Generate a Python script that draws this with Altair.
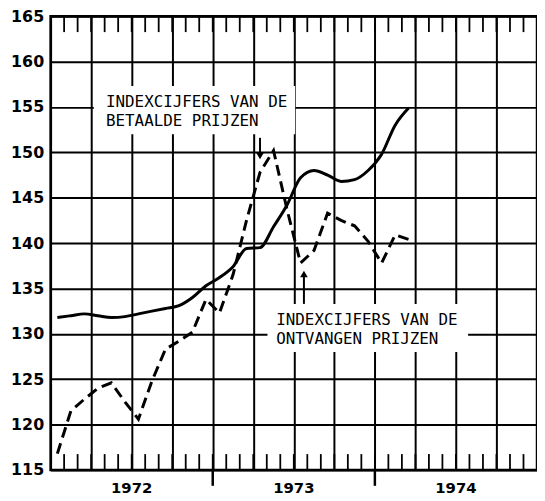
import altair as alt
import pandas as pd

# ---- data (months counted from 1 Jan 1972; values = index numbers) ----
months = [0.5 + k for k in range(27)]
betaalde = [131.8, 132.0, 132.2, 132.0, 131.8, 131.9, 132.2, 132.5, 132.8, 133.1,
            134.0, 135.3, 136.2, 137.4, 139.4, 139.5, 141.8, 144.2, 147.2, 148.0,
            147.5, 146.8, 147.0, 148.0, 149.8, 153.0, 154.9]
ontvangen = [116.8, 121.5, 122.8, 124.0, 124.6, 122.5, 120.6, 124.8, 128.3, 129.2,
             130.2, 133.8, 132.3, 136.5, 142.5, 147.8, 150.2, 143.7, 137.8, 139.2,
             143.3, 142.5, 141.9, 140.2, 137.8, 140.9, 140.4]

y_ticks = [115, 120, 125, 130, 135, 140, 145, 150, 155, 160, 165]
quarter_lines = [0, 3, 6, 9, 12, 15, 18, 21, 24, 27, 30, 33, 36]
month_ticks = list(range(1, 36))
year_bounds = [12, 24]
year_labels = ["1972", "1973", "1974"]
year_mid = [6, 18, 30]

label_text = ["INDEXCIJFERS VAN DE", "BETAALDE PRIJZEN",
              "INDEXCIJFERS VAN DE", "ONTVANGEN PRIJZEN"]
label_m = [4.1, 4.1, 16.7, 16.7]
label_v = [155.55, 153.4, 131.55, 129.4]

box_m = [3.2, 16.05]
box_m2 = [18.1, 30.9]
box_v = [157.3, 133.3]
box_v2 = [152.0, 128.0]

arrow_m = [15.5, 18.75]
arrow_from = [151.6, 133.3]
arrow_to = [149.6, 136.6]
arrow_shape = ["triangle-down", "triangle-up"]

W, H = 491, 458

xscale = alt.Scale(domain=[0, 36], nice=False, zero=False)
yscale = alt.Scale(domain=[115, 165], nice=False, zero=False)
xaxis = alt.Axis(values=quarter_lines, grid=True, gridColor="black", gridWidth=2,
                 gridOpacity=1, labels=False, ticks=False, domain=False, title=None)
yaxis = alt.Axis(values=y_ticks, grid=True, gridColor="black", gridWidth=2,
                 gridOpacity=1, ticks=False, domain=False, title=None,
                 labelFont="DejaVu Sans", labelFontWeight="bold", labelFontSize=16,
                 labelColor="black", labelPadding=7)

X = lambda f: alt.X(f, type="quantitative", scale=xscale, axis=xaxis)
Y = lambda f: alt.Y(f, type="quantitative", scale=yscale, axis=yaxis)

series = pd.DataFrame({"m": months * 2, "v": betaalde + ontvangen,
                       "s": ["b"] * 27 + ["o"] * 27})

solid = alt.Chart(series[series.s == "b"]).mark_line(
    color="black", strokeWidth=3, interpolate="monotone"
).encode(x=X("m"), y=Y("v"))

dashed = alt.Chart(series[series.s == "o"]).mark_line(
    color="black", strokeWidth=3, strokeDash=[11, 6]
).encode(x=X("m"), y=Y("v"))

boxes = alt.Chart(pd.DataFrame({"m": box_m, "m2": box_m2, "v": box_v, "v2": box_v2})).mark_rect(
    color="white"
).encode(x=X("m"), x2="m2", y=Y("v"), y2="v2")

labels = alt.Chart(pd.DataFrame({"m": label_m, "v": label_v, "t": label_text})).mark_text(
    align="left", baseline="middle", font="DejaVu Sans Mono", fontSize=16, color="black"
).encode(x=X("m"), y=Y("v"), text="t:N")

arrows_df = pd.DataFrame({"m": arrow_m, "v": arrow_from, "v2": arrow_to, "sh": arrow_shape})
arrow_lines = alt.Chart(arrows_df).mark_rule(color="black", strokeWidth=2).encode(
    x=X("m"), y=Y("v"), y2="v2")
arrow_heads = alt.Chart(pd.DataFrame({"m": arrow_m, "v": arrow_to, "sh": arrow_shape})).mark_point(
    filled=True, color="black", size=60, opacity=1
).encode(x=X("m"), y=Y("v"),
         shape=alt.Shape("sh:N", scale=None, legend=None))

mt = pd.DataFrame({"m": month_ticks})
top_ticks = alt.Chart(mt).mark_rule(color="black", strokeWidth=1.8).encode(
    x=X("m"), y=alt.value(0), y2=alt.value(16))
bottom_ticks = alt.Chart(mt).mark_rule(color="black", strokeWidth=1.8).encode(
    x=X("m"), y=alt.value(H - 16), y2=alt.value(H))
year_ticks = alt.Chart(pd.DataFrame({"m": year_bounds})).mark_rule(color="black", strokeWidth=2.5).encode(
    x=X("m"), y=alt.value(H), y2=alt.value(H + 16))
years = alt.Chart(pd.DataFrame({"m": year_mid, "t": year_labels})).mark_text(
    font="DejaVu Sans", fontWeight="bold", fontSize=15, color="black", baseline="middle"
).encode(x=X("m"), y=alt.value(H + 18), text="t:N")

chart = alt.layer(
    boxes, top_ticks, bottom_ticks, year_ticks, solid, dashed,
    labels, arrow_lines, arrow_heads, years
).properties(
    width=W, height=H,
    autosize=alt.AutoSizeParams(type="none"),
    padding={"left": 43, "top": 6, "right": 0, "bottom": 28},
    background="white"
).configure_view(stroke="black", strokeWidth=2.5)

chart.save("out.html", embed_options={"renderer": "svg", "actions": False})
